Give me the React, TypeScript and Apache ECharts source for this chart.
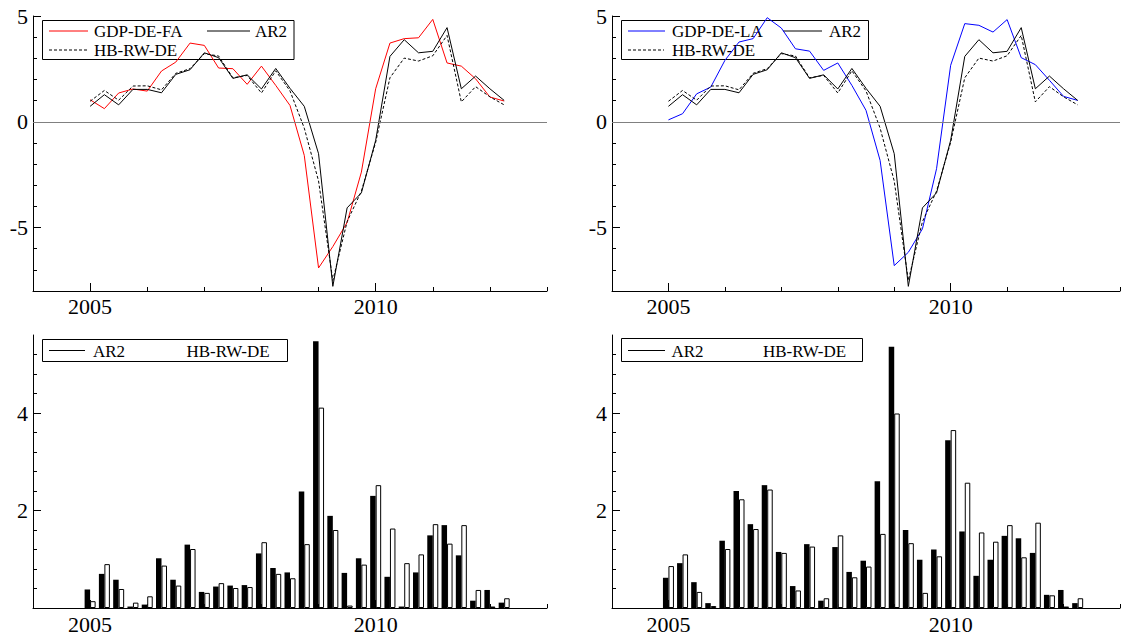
import React, { useEffect, useRef } from "react";
import * as echarts from "echarts";

// ---------- data ----------
const quarters: number[] = [
  2005.0, 2005.25, 2005.5, 2005.75, 2006.0, 2006.25, 2006.5, 2006.75,
  2007.0, 2007.25, 2007.5, 2007.75, 2008.0, 2008.25, 2008.5, 2008.75,
  2009.0, 2009.25, 2009.5, 2009.75, 2010.0, 2010.25, 2010.5, 2010.75,
  2011.0, 2011.25, 2011.5, 2011.75, 2012.0, 2012.25,
];

const gdpDeFA: number[] = [
  1.04, 0.62, 1.36, 1.55, 1.45, 2.4, 2.82, 3.72, 3.61, 2.54, 2.51, 1.77, 2.63, 1.72, 0.77,
  -1.59, -6.91, -5.9, -4.76, -2.38, 1.56, 3.72, 3.93, 3.97, 4.84, 2.78, 2.63, 2.03, 1.17, 0.98,
];
const gdpDeLA: number[] = [
  0.09, 0.38, 1.32, 1.64, 2.9, 3.77, 3.93, 4.92, 4.43, 3.45, 3.34, 2.43, 2.78, 1.72, 0.54,
  -1.83, -6.8, -6.17, -5.06, -2.22, 2.67, 4.64, 4.56, 4.24, 4.83, 3.03, 2.7, 1.96, 1.2, 1.01,
];
const ar2: number[] = [
  0.73, 1.28, 0.8, 1.53, 1.53, 1.37, 2.24, 2.46, 3.26, 3.03, 2.05, 2.22, 1.55, 2.52, 1.58,
  0.73, -1.51, -7.78, -4.07, -3.36, -0.88, 3.09, 3.88, 3.26, 3.33, 4.45, 1.56, 2.16, 1.56, 1.01,
];
const hbRwDe: number[] = [
  0.97, 1.48, 1.02, 1.69, 1.7, 1.51, 2.29, 2.51, 3.22, 3.11, 2.08, 2.19, 1.36, 2.41, 1.46,
  -0.3, -2.8, -7.5, -4.72, -3.28, -0.97, 2.08, 3.01, 2.87, 3.12, 4.08, 0.94, 1.66, 1.18, 0.8,
];

const errAr2FA: number[] = [
  0.38, 0.7, 0.58, 0.03, 0.07, 1.02, 0.58, 1.3, 0.33, 0.44, 0.46, 0.47, 1.12, 0.82, 0.73,
  2.39, 5.47, 1.89, 0.72, 1.02, 2.3, 0.64, 0.03, 0.73, 1.49, 1.7, 1.08, 0.15, 0.37, 0.11,
];
const errHbFA: number[] = [
  0.14, 0.9, 0.39, 0.11, 0.24, 0.87, 0.46, 1.21, 0.31, 0.51, 0.41, 0.43, 1.35, 0.7, 0.61,
  1.31, 4.11, 1.6, 0.05, 0.89, 2.52, 1.63, 0.92, 1.1, 1.72, 1.32, 1.7, 0.37, 0.03, 0.2,
];
const errAr2LA: number[] = [
  0.62, 0.92, 0.53, 0.1, 1.38, 2.4, 1.72, 2.52, 1.15, 0.45, 1.31, 0.15, 1.25, 0.74, 0.97,
  2.6, 5.36, 1.6, 0.99, 1.2, 3.44, 1.57, 0.66, 0.99, 1.48, 1.43, 1.13, 0.27, 0.37, 0.1,
];
const errHbLA: number[] = [
  0.86, 1.1, 0.33, 0.04, 1.21, 2.23, 1.62, 2.43, 1.13, 0.36, 1.26, 0.2, 1.49, 0.63, 0.85,
  1.52, 3.99, 1.33, 0.31, 1.06, 3.65, 2.57, 1.55, 1.36, 1.7, 1.04, 1.75, 0.26, 0.03, 0.2,
];

const xMajorTicks: number[] = [2005, 2010];
const xMinorTicks: number[] = [2004, 2006, 2007, 2008, 2009, 2011, 2012, 2013];
const yTopMajorTicks: number[] = [-5, 0, 5];
const yTopMinorTicks: number[] = [-8, -7, -6, -4, -3, -2, -1, 1, 2, 3, 4];
const yBotMajorTicks: number[] = [2, 4];
const yBotMinorTicks: number[] = [0.4, 0.8, 1.2, 1.6, 2.4, 2.8, 3.2, 3.6, 4.4, 4.8, 5.2];

// ---------- styling ----------
const FONT = "Liberation Serif, Times New Roman, serif";
const TICK_FONT = 22;
const LEGEND_FONT = 17;

const grids = [
  { left: 33, top: 16, width: 514, height: 275 },
  { left: 612, top: 16, width: 508, height: 275 },
  { left: 33, top: 335, width: 514, height: 273 },
  { left: 612, top: 335, width: 508, height: 273 },
];

const pairs = (ys: number[]) => quarters.map((q, i) => [q, ys[i]]);

function xAxesFor(g: number, margin: number) {
  return [
    {
      type: "value", gridIndex: g, min: 2004, max: 2013, position: "bottom",
      axisLine: { show: true, onZero: false, lineStyle: { color: "#000", width: 1 } },
      axisTick: { show: true, inside: true, length: 8, customValues: xMajorTicks, lineStyle: { color: "#000", width: 1 } },
      axisLabel: {
        show: true, customValues: xMajorTicks, margin, color: "#000",
        fontFamily: FONT, fontSize: TICK_FONT, formatter: (v: number) => String(v),
      },
      splitLine: { show: false },
    },
    {
      type: "value", gridIndex: g, min: 2004, max: 2013, position: "bottom",
      axisLine: { show: false, onZero: false },
      axisTick: { show: true, inside: true, length: 4, customValues: xMinorTicks, lineStyle: { color: "#000", width: 1 } },
      axisLabel: { show: false },
      splitLine: { show: false },
    },
  ];
}

function yAxesFor(g: number, min: number, max: number, major: number[], minor: number[]) {
  return [
    {
      type: "value", gridIndex: g, min, max, position: "left",
      axisLine: { show: true, onZero: false, lineStyle: { color: "#000", width: 1 } },
      axisTick: { show: true, inside: true, length: 8, customValues: major, lineStyle: { color: "#000", width: 1 } },
      axisLabel: {
        show: true, customValues: major, margin: 5, color: "#000",
        fontFamily: FONT, fontSize: TICK_FONT, formatter: (v: number) => String(v),
      },
      splitLine: { show: false },
    },
    {
      type: "value", gridIndex: g, min, max, position: "left",
      axisLine: { show: false, onZero: false },
      axisTick: { show: true, inside: true, length: 4, customValues: minor, lineStyle: { color: "#000", width: 1 } },
      axisLabel: { show: false },
      splitLine: { show: false },
    },
  ];
}

function lineSeries(name: string, g: number, ys: number[], color: string, dashed: boolean, zero: boolean) {
  const s: any = {
    name, type: "line", xAxisIndex: 2 * g, yAxisIndex: 2 * g, data: pairs(ys),
    symbol: "none", showSymbol: false,
    lineStyle: { color, width: 1, type: dashed ? [3, 2] : "solid" },
    itemStyle: { color }, z: 3,
  };
  if (zero) {
    s.markLine = {
      silent: true, symbol: "none", animation: false, label: { show: false },
      lineStyle: { color: "#808080", type: "solid", width: 1 },
      data: [{ yAxis: 0 }],
    };
  }
  return s;
}

function barSeries(name: string, g: number, ys: number[], filled: boolean) {
  return {
    name, type: "bar", xAxisIndex: 2 * g, yAxisIndex: 2 * g, data: pairs(ys),
    barWidth: 5.5, barGap: "0%",
    itemStyle: filled
      ? { color: "#000", borderColor: "#000", borderWidth: 0 }
      : { color: "#fff", borderColor: "#000", borderWidth: 1 },
    z: 3,
  };
}

function legendText(text: string, x: number, y: number) {
  return {
    type: "text", x, y, z: 1,
    style: {
      text, fontFamily: FONT, fontSize: LEGEND_FONT,
      fill: "#000", align: "left", verticalAlign: "middle",
    },
  };
}
function legendLine(x1: number, x2: number, y: number, color: string, dashed: boolean) {
  return {
    type: "line", z: 1,
    shape: { x1, y1: y, x2, y2: y },
    style: { stroke: color, lineWidth: 1, lineDash: dashed ? [3, 2] : null },
  };
}
function legendBox(x: number, y: number, w: number, h: number) {
  return {
    type: "rect", z: 1,
    shape: { x, y, width: w, height: h },
    style: { fill: "none", stroke: "#000", lineWidth: 1 },
  };
}

export default function App() {
  const ref = useRef<HTMLDivElement>(null);

  useEffect(() => {
    if (!ref.current) return;
    const chart = echarts.init(ref.current, null, { renderer: "svg" });

    const option: any = {
      animation: false,
      backgroundColor: "#fff",
      textStyle: { fontFamily: FONT },
      grid: grids.map((g) => ({ ...g, containLabel: false })),
      xAxis: [...xAxesFor(0, 4), ...xAxesFor(1, 4), ...xAxesFor(2, 5), ...xAxesFor(3, 5)],
      yAxis: [
        ...yAxesFor(0, -8, 5, yTopMajorTicks, yTopMinorTicks),
        ...yAxesFor(1, -8, 5, yTopMajorTicks, yTopMinorTicks),
        ...yAxesFor(2, 0, 5.6, yBotMajorTicks, yBotMinorTicks),
        ...yAxesFor(3, 0, 5.6, yBotMajorTicks, yBotMinorTicks),
      ],
      series: [
        lineSeries("GDP-DE-FA", 0, gdpDeFA, "#ff0000", false, true),
        lineSeries("AR2", 0, ar2, "#000000", false, false),
        lineSeries("HB-RW-DE", 0, hbRwDe, "#000000", true, false),
        lineSeries("GDP-DE-LA", 1, gdpDeLA, "#0000ff", false, true),
        lineSeries("AR2", 1, ar2, "#000000", false, false),
        lineSeries("HB-RW-DE", 1, hbRwDe, "#000000", true, false),
        barSeries("AR2", 2, errAr2FA, true),
        barSeries("HB-RW-DE", 2, errHbFA, false),
        barSeries("AR2", 3, errAr2LA, true),
        barSeries("HB-RW-DE", 3, errHbLA, false),
      ],
      graphic: [
        // top-left legend
        legendBox(42.5, 20.5, 251.5, 39),
        legendLine(49, 88, 31, "#ff0000", false),
        legendText("GDP-DE-FA", 94, 31),
        legendLine(207, 250, 31, "#000", false),
        legendText("AR2", 255, 31),
        legendLine(49, 88, 50, "#000", true),
        legendText("HB-RW-DE", 94, 50),
        // top-right legend
        legendBox(621.5, 20.5, 247, 39),
        legendLine(628, 665, 31, "#0000ff", false),
        legendText("GDP-DE-LA", 672, 31),
        legendLine(783, 822, 31, "#000", false),
        legendText("AR2", 829, 31),
        legendLine(628, 664, 50, "#000", true),
        legendText("HB-RW-DE", 672, 50),
        // bottom-left legend
        legendBox(42.5, 339.5, 245, 22),
        legendLine(49, 85, 350.5, "#000", false),
        legendText("AR2", 93, 351),
        legendText("HB-RW-DE", 186.5, 351),
        // bottom-right legend
        legendBox(621.5, 338.5, 241, 23),
        legendLine(628, 665, 350.5, "#000", false),
        legendText("AR2", 671.5, 351),
        legendText("HB-RW-DE", 763, 351),
      ],
    };

    chart.setOption(option);
    return () => chart.dispose();
  }, []);

  return (
    <div
      ref={ref}
      style={{ position: "absolute", left: 0, top: 0, width: 1129, height: 641, background: "#fff" }}
    />
  );
}
